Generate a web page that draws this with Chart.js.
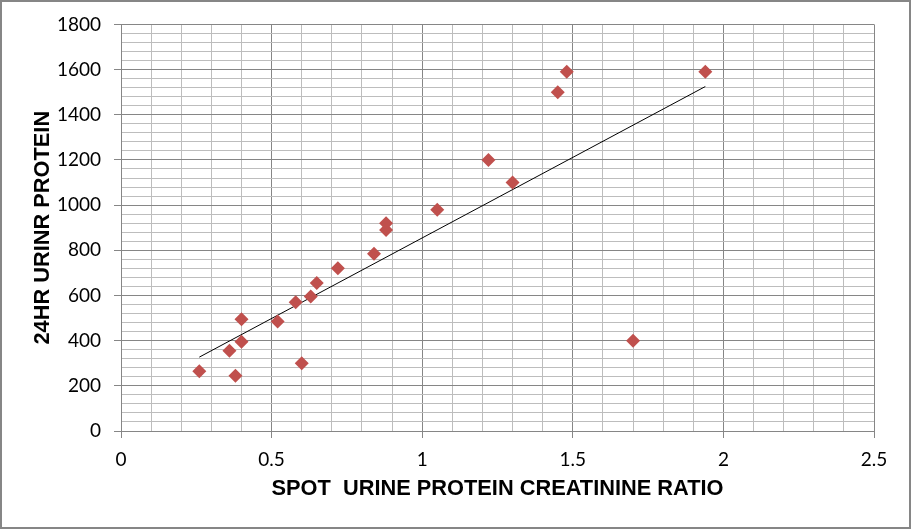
<!DOCTYPE html>
<html>
<head>
<meta charset="utf-8">
<script src="https://cdn.jsdelivr.net/npm/chart.js@4.4.1/dist/chart.umd.min.js"></script>
<style>
  html, body { margin: 0; padding: 0; background: #fff; }
  #wrap { width: 911px; height: 529px; }
</style>
</head>
<body>
<div id="wrap"><canvas id="chart" width="911" height="529"></canvas></div>
<script>
// Spot urine protein creatinine ratio vs 24hr urine protein
const ratioValues = [0.26, 0.36, 0.38, 0.40, 0.40, 0.52, 0.58, 0.60, 0.63, 0.65, 0.72,
  0.84, 0.88, 0.88, 1.05, 1.22, 1.30, 1.45, 1.48, 1.70, 1.94];
const proteinValues = [265, 355, 245, 495, 395, 485, 570, 300, 595, 655, 720,
  785, 920, 890, 980, 1200, 1100, 1500, 1590, 400, 1590];

// linear trendline end points
const trendX = [0.26, 1.94];
const trendY = [327, 1525];

const xMajorTicks = [0, 0.5, 1, 1.5, 2, 2.5];
const yMajorTicks = [0, 200, 400, 600, 800, 1000, 1200, 1400, 1600, 1800];

const majorColor = "#868686";
const minorColor = "#bdbdbd";

function isMajor(value, list) {
  return list.some(m => Math.abs(m - value) < 1e-6);
}

const points = ratioValues.map((x, i) => ({ x: x, y: proteinValues[i] }));
const trend = trendX.map((x, i) => ({ x: x, y: trendY[i] }));

// outer chart border like the spreadsheet frame
const frame = {
  id: "frame",
  afterDraw(chart) {
    const ctx = chart.ctx;
    ctx.save();
    ctx.strokeStyle = "#868686";
    ctx.lineWidth = 2;
    ctx.strokeRect(1, 1, chart.width - 2, chart.height - 2);
    ctx.restore();
  }
};

const ctx = document.getElementById("chart").getContext("2d");
new Chart(ctx, {
  type: "scatter",
  data: {
    datasets: [
      {
        label: "Trend",
        data: trend,
        showLine: true,
        borderColor: "#000",
        borderWidth: 1,
        pointRadius: 0,
        pointHoverRadius: 0,
        order: 2
      },
      {
        label: "24HR URINR PROTEIN",
        data: points,
        pointStyle: "rectRot",
        pointRadius: 7,
        backgroundColor: "#c0504d",
        borderColor: "#c0504d",
        borderWidth: 0,
        order: 1
      }
    ]
  },
  options: {
    responsive: false,
    animation: false,
    layout: { padding: { top: 24, right: 37, left: 0, bottom: 0 } },
    plugins: {
      legend: { display: false },
      tooltip: { enabled: false }
    },
    scales: {
      x: {
        type: "linear",
        min: 0,
        max: 2.5,
        afterFit(scale) { scale.height = 98; },
        ticks: {
          stepSize: 0.1,
          autoSkip: false,
          maxRotation: 0,
          padding: 10,
          color: "#000",
          font: { family: "Lato", size: 19 },
          callback: v => isMajor(v, xMajorTicks) ? String(+v.toFixed(1)) : ""
        },
        grid: {
          color: c => isMajor(c.tick.value, xMajorTicks) ? majorColor : minorColor,
          tickColor: c => isMajor(c.tick.value, xMajorTicks) ? majorColor : "rgba(0,0,0,0)",
          tickLength: 7,
          lineWidth: 1
        },
        border: { color: majorColor },
        title: {
          display: true,
          text: "SPOT  URINE PROTEIN CREATININE RATIO",
          color: "#000",
          font: { family: "Liberation Sans", size: 21.8, weight: "bold" },
          padding: { top: 0, bottom: 27 }
        }
      },
      y: {
        type: "linear",
        min: 0,
        max: 1800,
        afterFit(scale) { scale.width = 121; },
        ticks: {
          stepSize: 40,
          autoSkip: false,
          padding: 13,
          color: "#000",
          font: { family: "Lato", size: 19 },
          callback: v => isMajor(v, yMajorTicks) ? String(v) : ""
        },
        grid: {
          color: c => isMajor(c.tick.value, yMajorTicks) ? majorColor : minorColor,
          tickColor: c => isMajor(c.tick.value, yMajorTicks) ? majorColor : "rgba(0,0,0,0)",
          tickLength: 7,
          lineWidth: 1
        },
        border: { color: majorColor },
        title: {
          display: true,
          text: "24HR URINR PROTEIN",
          color: "#000",
          font: { family: "Liberation Sans", size: 21.8, weight: "bold" },
          padding: { top: 30, bottom: 0 }
        }
      }
    }
  },
  plugins: [frame]
});
</script>
</body>
</html>
